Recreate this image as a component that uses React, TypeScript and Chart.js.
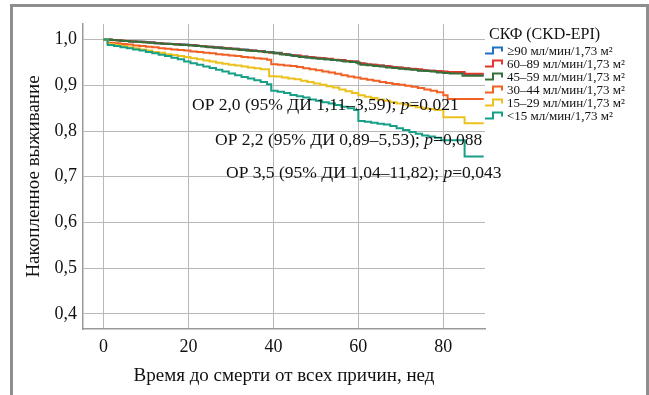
import React, { useEffect, useRef } from 'react';
import { Chart, registerables } from 'chart.js';

Chart.register(...registerables);

// ---------- data ----------
const seriesLabels = [
  '≥90 мл/мин/1,73 м²',
  '60–89 мл/мин/1,73 м²',
  '45–59 мл/мин/1,73 м²',
  '30–44 мл/мин/1,73 м²',
  '15–29 мл/мин/1,73 м²',
  '<15 мл/мин/1,73 м²',
];
const seriesColors = ['#1f72c4', '#e2362b', '#35703a', '#f26124', '#ecc11e', '#17a087'];

const blueTimes = [0, 2, 4, 6, 8, 10, 12, 14, 16, 18, 20, 22, 24, 26, 28, 30, 32, 34, 36, 38, 40, 42, 44, 46, 48, 50, 52, 54, 56, 58, 60, 62, 64, 66, 68, 70, 72, 74, 76, 78, 80, 82, 85, 89.5];
const blueSurv = [1.0, 0.999, 0.997, 0.996, 0.995, 0.994, 0.992, 0.991, 0.990, 0.989, 0.988, 0.986, 0.984, 0.983, 0.981, 0.980, 0.978, 0.976, 0.975, 0.973, 0.971, 0.968, 0.965, 0.963, 0.961, 0.959, 0.957, 0.955, 0.953, 0.952, 0.947, 0.945, 0.943, 0.941, 0.939, 0.937, 0.935, 0.933, 0.932, 0.930, 0.928, 0.927, 0.923, 0.923];

const redTimes = [0, 2, 3.5, 5, 6.5, 8, 9.5, 11, 12.5, 14, 15.5, 17, 19, 21, 22.5, 24, 25.5, 27, 28.5, 30, 31.5, 33, 34.5, 36, 37.5, 39, 40.5, 42, 43.5, 45, 46.5, 48, 49.5, 51, 52.5, 54, 55.5, 57, 58.5, 60, 61.5, 63, 64.5, 66, 67.5, 69, 70.5, 72, 73.5, 75, 76.5, 78, 79.5, 81, 85, 89.5];
const redSurv = [1.0, 0.999, 0.998, 0.997, 0.996, 0.995, 0.994, 0.993, 0.992, 0.991, 0.990, 0.989, 0.988, 0.987, 0.986, 0.984, 0.983, 0.982, 0.981, 0.980, 0.978, 0.977, 0.976, 0.975, 0.973, 0.971, 0.970, 0.968, 0.966, 0.965, 0.963, 0.962, 0.960, 0.959, 0.958, 0.956, 0.955, 0.953, 0.952, 0.948, 0.946, 0.945, 0.943, 0.942, 0.940, 0.939, 0.937, 0.936, 0.935, 0.933, 0.932, 0.931, 0.930, 0.929, 0.925, 0.925];

const greenTimes = [0, 1.5, 3, 4.5, 6, 7.5, 9, 10.5, 12, 13.5, 15, 16.5, 18, 20, 21.5, 23, 24.5, 26, 27.5, 29, 30.5, 32, 33.5, 35, 36.5, 38, 40, 41.5, 43, 44.5, 46, 47.5, 49, 50.5, 52, 53.5, 55, 56.5, 58, 59.5, 60.5, 62, 63.5, 65, 66.5, 68, 69.5, 71, 72.5, 74, 75.5, 77, 78.5, 80, 81.5, 84.5, 89.5];
const greenSurv = [1.0, 0.999, 0.998, 0.997, 0.996, 0.995, 0.994, 0.993, 0.992, 0.991, 0.990, 0.989, 0.988, 0.987, 0.986, 0.985, 0.983, 0.982, 0.981, 0.980, 0.979, 0.977, 0.976, 0.975, 0.974, 0.972, 0.970, 0.968, 0.966, 0.964, 0.962, 0.961, 0.959, 0.958, 0.957, 0.955, 0.954, 0.952, 0.951, 0.949, 0.945, 0.944, 0.942, 0.941, 0.939, 0.938, 0.936, 0.935, 0.934, 0.932, 0.931, 0.930, 0.928, 0.927, 0.926, 0.921, 0.921];

const orangeTimes = [0, 1, 2.5, 4, 5.5, 7, 8.5, 10, 11.5, 13, 14.5, 16, 17.5, 19, 20.5, 22, 23.5, 25, 26.5, 28, 29.5, 31, 32.5, 34, 35.5, 37, 38.5, 39.5, 41, 42.5, 44, 45.5, 47, 48.5, 50, 51.5, 53, 54.5, 56, 57.5, 59, 60.5, 62, 63.5, 65, 66.5, 68, 69.5, 71, 72.5, 74, 75.5, 77, 78.5, 80, 81, 89.5];
const orangeSurv = [1.0, 0.993, 0.992, 0.990, 0.989, 0.987, 0.986, 0.984, 0.983, 0.981, 0.980, 0.978, 0.977, 0.976, 0.974, 0.973, 0.971, 0.970, 0.968, 0.967, 0.965, 0.964, 0.962, 0.961, 0.959, 0.958, 0.956, 0.946, 0.945, 0.943, 0.942, 0.940, 0.937, 0.935, 0.933, 0.930, 0.928, 0.925, 0.922, 0.919, 0.917, 0.914, 0.912, 0.910, 0.907, 0.905, 0.903, 0.901, 0.899, 0.897, 0.894, 0.891, 0.888, 0.885, 0.878, 0.870, 0.870];

const yellowTimes = [0, 1, 2.5, 4, 5.5, 7, 8.5, 10, 11.5, 13, 14.5, 16, 17.5, 19, 20.5, 22, 23.5, 25, 26.5, 28, 29.5, 31, 32.5, 34, 35.5, 37, 39, 40.5, 42, 43.5, 45, 46.5, 48, 49.5, 51, 52.5, 54, 55.5, 57, 58.5, 60, 61.5, 63, 64.5, 66, 67.5, 69, 70.5, 72, 73.5, 75, 76.5, 78, 80, 85, 89.5];
const yellowSurv = [1.0, 0.990, 0.988, 0.986, 0.983, 0.981, 0.978, 0.976, 0.973, 0.971, 0.968, 0.966, 0.964, 0.962, 0.959, 0.957, 0.954, 0.952, 0.949, 0.947, 0.945, 0.943, 0.941, 0.939, 0.937, 0.935, 0.920, 0.919, 0.917, 0.915, 0.913, 0.910, 0.907, 0.904, 0.901, 0.898, 0.895, 0.891, 0.887, 0.883, 0.878, 0.875, 0.872, 0.869, 0.866, 0.863, 0.860, 0.858, 0.855, 0.852, 0.850, 0.848, 0.846, 0.830, 0.817, 0.817];

const tealTimes = [0, 1, 2.5, 4, 5.5, 7, 8.5, 10, 11.5, 13, 14.5, 16, 17.5, 19, 20.5, 22, 23.5, 25, 26.5, 28, 29.5, 31, 32.5, 34, 35.5, 37, 38.5, 39.5, 41, 42.5, 44, 45.5, 47, 48.5, 50, 51.5, 53, 54.5, 56, 57.5, 59, 60, 61.5, 63, 64.5, 66, 67.5, 69, 70.5, 72, 73.5, 75, 76.5, 78, 79.5, 85, 89.5];
const tealSurv = [1.0, 0.988, 0.986, 0.983, 0.981, 0.978, 0.976, 0.973, 0.970, 0.967, 0.964, 0.960, 0.957, 0.952, 0.948, 0.945, 0.941, 0.938, 0.934, 0.930, 0.926, 0.922, 0.918, 0.915, 0.911, 0.907, 0.902, 0.888, 0.886, 0.883, 0.879, 0.876, 0.873, 0.869, 0.866, 0.863, 0.860, 0.857, 0.853, 0.850, 0.846, 0.822, 0.820, 0.818, 0.816, 0.814, 0.811, 0.806, 0.802, 0.798, 0.794, 0.790, 0.788, 0.785, 0.780, 0.744, 0.744];

const xTicks = [0, 20, 40, 60, 80];
const yTicks = [0.4, 0.5, 0.6, 0.7, 0.8, 0.9, 1.0];

const xTitle = 'Время до смерти от всех причин, нед';
const yTitle = 'Накопленное выживание';
const legendTitle = 'СКФ (CKD-EPI)';
const hrLines = [
  ['ОР 2,0 (95% ДИ 1,11–3,59); ', 'p', '=0,021'],
  ['ОР 2,2 (95% ДИ 0,89–5,53); ', 'p', '=0,088'],
  ['ОР 3,5 (95% ДИ 1,04–11,82); ', 'p', '=0,043'],
];

const allTimes = [blueTimes, redTimes, greenTimes, orangeTimes, yellowTimes, tealTimes];
const allSurv = [blueSurv, redSurv, greenSurv, orangeSurv, yellowSurv, tealSurv];
const drawOrder = [6, 5, 4, 3, 2, 1];

const FONT = '"Liberation Serif", "Times New Roman", serif';

const framePlugin = {
  id: 'frame',
  beforeDraw(chart: any) {
    const ctx = chart.ctx;
    ctx.save();
    ctx.fillStyle = '#ffffff';
    ctx.fillRect(0, 0, chart.width, chart.height);
    ctx.strokeStyle = '#8e8e8e';
    ctx.lineWidth = 3;
    ctx.beginPath();
    ctx.moveTo(11.5, chart.height + 5);
    ctx.lineTo(11.5, 5.5);
    ctx.lineTo(647.5, 5.5);
    ctx.lineTo(647.5, chart.height + 5);
    ctx.stroke();
    ctx.restore();
  },
};

const annotPlugin = {
  id: 'annot',
  afterDraw(chart: any) {
    const ctx = chart.ctx;
    ctx.save();
    ctx.fillStyle = '#111111';
    ctx.textBaseline = 'alphabetic';
    const starts = [[192, 110], [215, 145], [226, 178]];
    hrLines.forEach((parts, i) => {
      let x = starts[i][0];
      const y = starts[i][1];
      parts.forEach((p, j) => {
        ctx.font = (j === 1 ? 'italic ' : '') + '17.5px ' + FONT;
        ctx.fillText(p, x, y);
        x += ctx.measureText(p).width;
      });
    });

    // legend
    ctx.font = '16px ' + FONT;
    ctx.fillText(legendTitle, 489, 39);
    ctx.font = '13px ' + FONT;
    seriesLabels.forEach((lab, i) => {
      const yc = 50.5 + i * 13;
      ctx.strokeStyle = seriesColors[i];
      ctx.lineWidth = 2;
      ctx.beginPath();
      ctx.moveTo(485, yc + 3);
      ctx.lineTo(493, yc + 3);
      ctx.lineTo(493, yc - 3);
      ctx.lineTo(502, yc - 3);
      ctx.lineTo(502, yc + 1);
      ctx.stroke();
      ctx.fillStyle = '#111111';
      ctx.fillText(lab, 507, yc + 4);
    });
    ctx.restore();
  },
};

export default function App() {
  const ref = useRef<HTMLCanvasElement>(null);
  useEffect(() => {
    if (!ref.current) return;
    const datasets = seriesLabels.map((lab, i) => ({
      label: lab,
      data: allTimes[i].map((t, k) => ({ x: t, y: allSurv[i][k] })),
      borderColor: seriesColors[i],
      backgroundColor: seriesColors[i],
      borderWidth: 2,
      stepped: 'before' as const,
      pointRadius: 0,
      fill: false,
      order: drawOrder[i],
    }));
    const tickFont = { family: FONT, size: 18 };
    const titleFont = { family: FONT, size: 19 };
    const chart = new Chart(ref.current, {
      type: 'line',
      data: { datasets },
      options: {
        animation: false,
        responsive: false,
        maintainAspectRatio: false,
        layout: { padding: { left: 0, right: 164, top: 24, bottom: 0 } },
        plugins: { legend: { display: false }, tooltip: { enabled: false } },
        scales: {
          x: {
            type: 'linear',
            min: -4.8,
            max: 89.8,
            afterBuildTicks: (s: any) => {
              s.ticks = xTicks.map((v) => ({ value: v }));
            },
            afterFit: (s: any) => {
              s.height = 66;
            },
            grid: { color: '#b8b8b8', lineWidth: 1, drawTicks: false },
            border: { display: true, color: '#9a9a9a', width: 1.5 },
            ticks: {
              padding: 7,
              font: tickFont,
              color: '#111111',
              maxRotation: 0,
              callback: (v: any) => String(v),
            },
            title: {
              display: true,
              text: xTitle,
              font: titleFont,
              color: '#111111',
              padding: { top: 0, bottom: 8 },
            },
          },
          y: {
            type: 'linear',
            min: 0.367,
            max: 1.034,
            afterBuildTicks: (s: any) => {
              s.ticks = yTicks.map((v) => ({ value: v }));
            },
            afterFit: (s: any) => {
              s.width = 83;
            },
            grid: { color: '#b8b8b8', lineWidth: 1, drawTicks: false },
            border: { display: true, color: '#9a9a9a', width: 1.5 },
            ticks: {
              padding: 6,
              font: tickFont,
              color: '#111111',
              callback: (v: any) => Number(v).toFixed(1).replace('.', ','),
            },
            title: {
              display: true,
              text: yTitle,
              font: titleFont,
              color: '#111111',
              padding: { top: 23, bottom: 0 },
            },
          },
        },
      },
      plugins: [framePlugin, annotPlugin],
    });
    return () => chart.destroy();
  }, []);
  return (
    <div style={{ position: 'absolute', left: 0, top: 0, width: 649, height: 395, background: '#fff' }}>
      <canvas ref={ref} width={649} height={395} style={{ display: 'block', width: 649, height: 395 }} />
    </div>
  );
}
